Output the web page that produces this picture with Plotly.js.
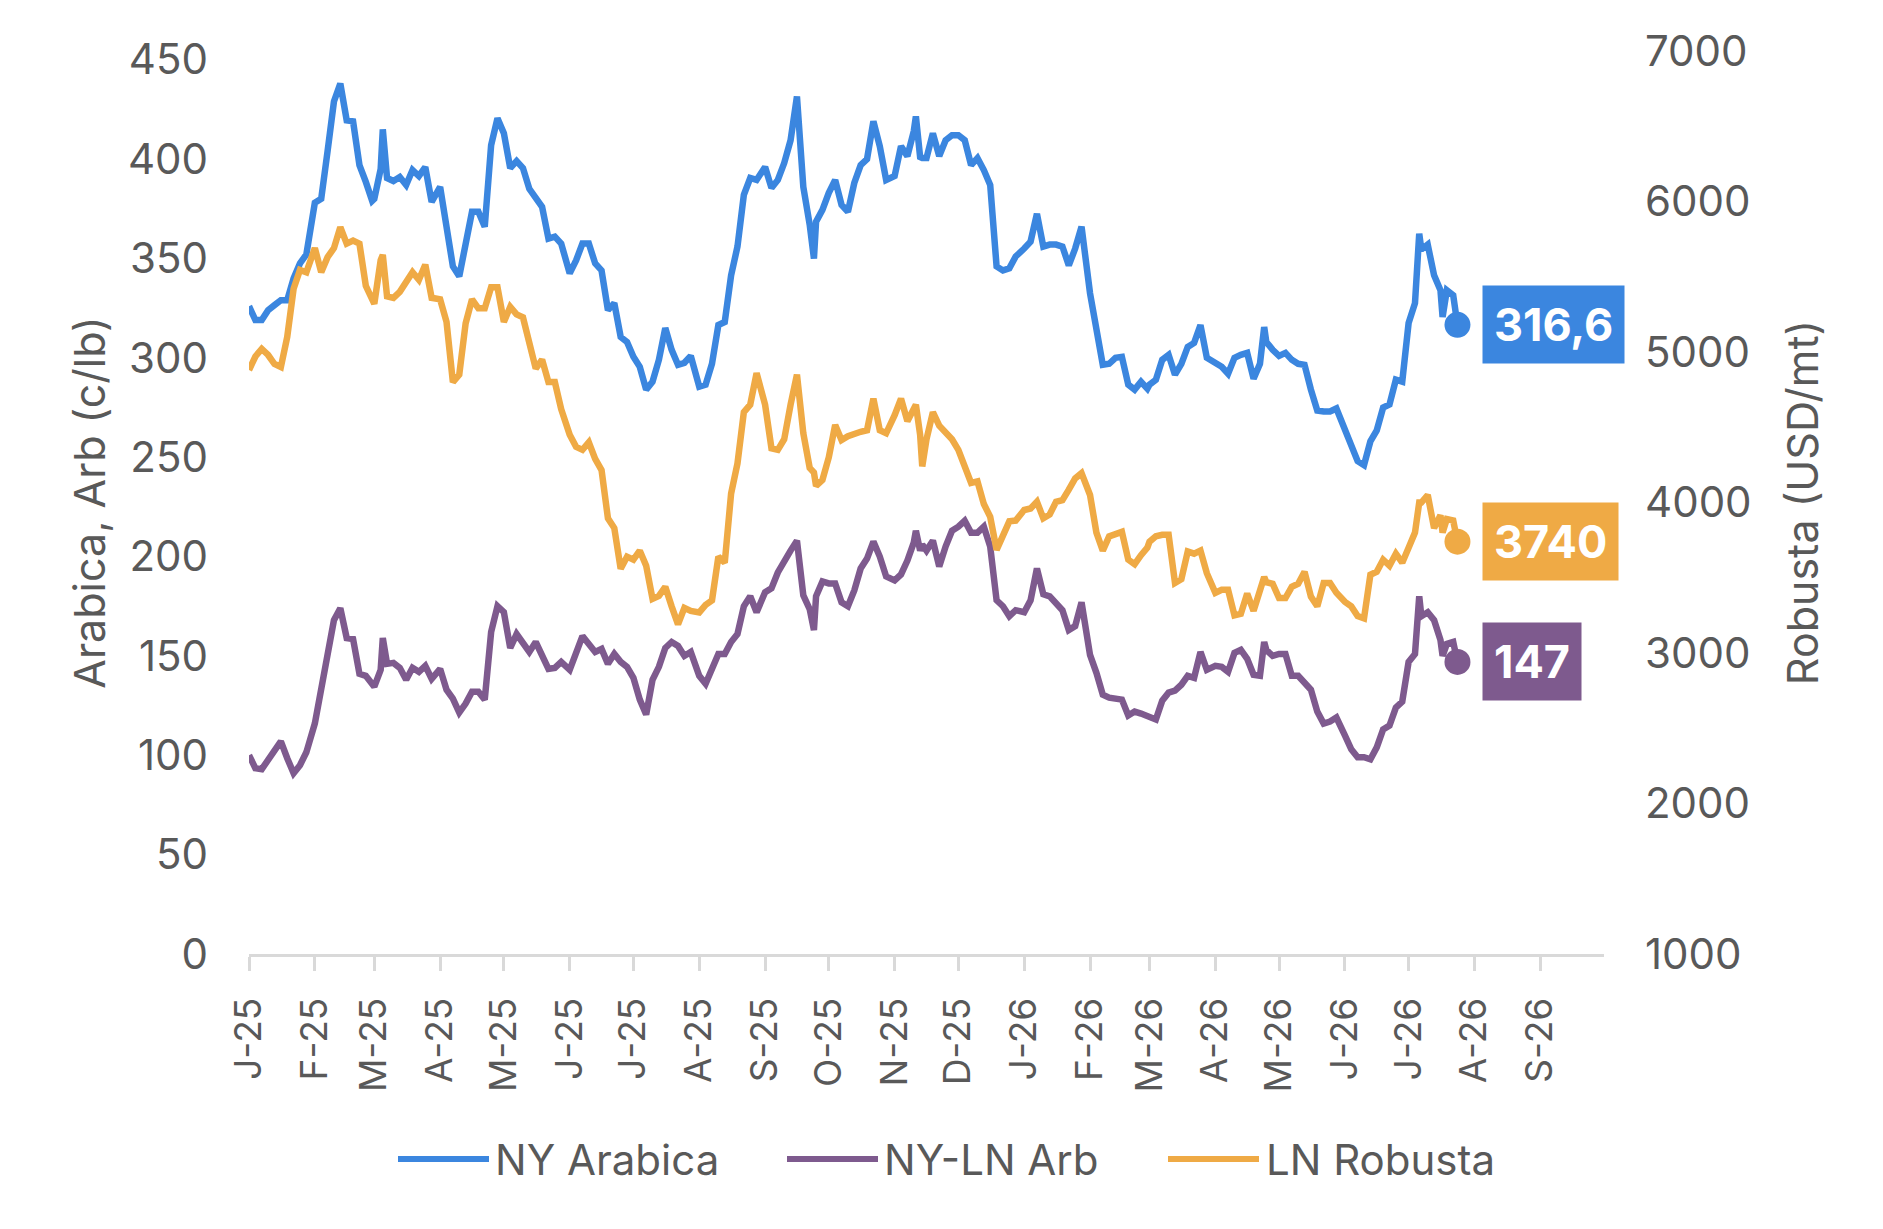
<!DOCTYPE html>
<html><head><meta charset="utf-8">
<script src="https://cdn.plot.ly/plotly-3.0.1.min.js"></script>
<style>html,body{margin:0;padding:0;background:#fff;}#chart{width:1883px;height:1229px;}</style>
</head><body><div id="chart"></div>
<script>
const dates = [
'2025-01-01','2025-01-04','2025-01-07','2025-01-10','2025-01-13','2025-01-16','2025-01-19','2025-01-22','2025-01-25','2025-01-28',
'2025-02-01','2025-02-04','2025-02-07','2025-02-10','2025-02-13','2025-02-16','2025-02-19','2025-02-22','2025-02-25','2025-02-28',
'2025-03-01','2025-03-04','2025-03-05','2025-03-07','2025-03-10','2025-03-13','2025-03-16','2025-03-19','2025-03-22','2025-03-25','2025-03-28',
'2025-04-01','2025-04-04','2025-04-07','2025-04-10','2025-04-13','2025-04-16','2025-04-19','2025-04-22','2025-04-25','2025-04-28',
'2025-05-01','2025-05-04','2025-05-07','2025-05-10','2025-05-13','2025-05-16','2025-05-19','2025-05-22','2025-05-25','2025-05-28',
'2025-06-01','2025-06-04','2025-06-07','2025-06-10','2025-06-13','2025-06-16','2025-06-19','2025-06-22','2025-06-25','2025-06-28',
'2025-07-01','2025-07-04','2025-07-07','2025-07-10','2025-07-13','2025-07-16','2025-07-19','2025-07-22','2025-07-25','2025-07-28',
'2025-08-01','2025-08-04','2025-08-07','2025-08-10','2025-08-13','2025-08-16','2025-08-19','2025-08-22','2025-08-25','2025-08-28',
'2025-09-01','2025-09-04','2025-09-07','2025-09-10','2025-09-13','2025-09-16','2025-09-19','2025-09-22','2025-09-24','2025-09-25','2025-09-28',
'2025-10-01','2025-10-04','2025-10-07','2025-10-10','2025-10-13','2025-10-16','2025-10-19','2025-10-22','2025-10-25','2025-10-28',
'2025-11-01','2025-11-04','2025-11-07','2025-11-10','2025-11-11','2025-11-13','2025-11-14','2025-11-16','2025-11-19','2025-11-22','2025-11-25','2025-11-28',
'2025-12-01','2025-12-04','2025-12-07','2025-12-10','2025-12-13','2025-12-16','2025-12-19','2025-12-22','2025-12-25','2025-12-28',
'2026-01-01','2026-01-04','2026-01-07','2026-01-10','2026-01-13','2026-01-16','2026-01-19','2026-01-22','2026-01-25','2026-01-28',
'2026-02-01','2026-02-04','2026-02-07','2026-02-10','2026-02-13','2026-02-16','2026-02-19','2026-02-22','2026-02-25','2026-02-28',
'2026-03-01','2026-03-04','2026-03-07','2026-03-10','2026-03-13','2026-03-16','2026-03-19','2026-03-22','2026-03-25','2026-03-28',
'2026-04-01','2026-04-04','2026-04-07','2026-04-10','2026-04-13','2026-04-16','2026-04-19','2026-04-22','2026-04-24','2026-04-25','2026-04-28',
'2026-05-01','2026-05-04','2026-05-07','2026-05-10','2026-05-13','2026-05-16','2026-05-19','2026-05-22','2026-05-25','2026-05-28',
'2026-06-01','2026-06-04','2026-06-07','2026-06-10','2026-06-13','2026-06-16','2026-06-19','2026-06-22','2026-06-25','2026-06-28',
'2026-07-01','2026-07-04','2026-07-06','2026-07-07','2026-07-10','2026-07-13','2026-07-16','2026-07-17','2026-07-19','2026-07-22','2026-07-24'
];
const nyArabica = [
326,319,319,324,326.5,329,329,340,347.5,352,
378,380,404,429,438,419.5,419,397,388.5,379,
380,395,415,390.5,389,391,387,394.5,391.5,396,378.5,
386,366,346,341,359,373.5,373.5,366,407,420.5,
413,395.5,399,395.5,385,381,376,360,361,357.5,
342.5,349,357.5,357.5,347.5,344,324,327.5,310.5,308,
300.5,295.5,284,288,299,315,304,296.5,297.5,301,
285.5,286.5,297,316.5,318,341.5,356,382,390.5,389.5,
396,385.5,389.5,398,409.5,431.5,386,367,350,368.5,374.5,
383,389.5,377,373.5,388,397,400,419,406.5,389.5,
391.5,406.5,401.5,414,421.5,401,400.5,400.5,413,401.5,409.5,412,
412,409.5,397,400.5,394.5,387,346,344,345,351,
355,358.5,372.5,356,357,357,356,346.5,355,366,
332.5,316.5,296.5,297,300,300.5,286.5,284,288,284.5,
286.5,289,299,301.5,291.5,297,305.5,307.5,316.5,300,
297,295.5,292,300,301.5,302.5,289.5,297,315.5,308,304,
301,302.5,299,297,296.5,284,273.5,273,273,274.5,
263.5,255.5,248,246,258,263.5,275,276.5,289,288,
317.5,327.5,362.5,354.5,357,341.5,334,320.5,334,331.5,316.6
];
const lnRobusta = [
4880,4970,5020,4980,4920,4900,5100,5420,5545,5530,
5690,5530,5630,5690,5830,5720,5740,5720,5440,5340,
5320,5610,5645,5370,5360,5400,5460,5530,5480,5580,5360,
5350,5200,4800,4850,5190,5350,5290,5290,5430,5430,
5200,5300,5250,5230,5070,4890,4950,4800,4800,4620,
4450,4370,4350,4400,4290,4215,3895,3830,3560,3640,
3620,3680,3580,3360,3380,3440,3310,3190,3300,3280,
3270,3320,3350,3640,3600,4060,4260,4600,4650,4860,
4650,4360,4350,4420,4650,4850,4460,4230,4200,4110,4150,
4300,4515,4415,4440,4460,4470,4480,4690,4480,4460,
4580,4690,4540,4640,4650,4450,4240,4420,4600,4510,4460,4420,
4350,4230,4130,4140,3990,3905,3685,3780,3875,3880,
3950,3960,4005,3895,3920,4005,4015,4085,4160,4195,
4050,3800,3680,3775,3790,3805,3620,3590,3650,3700,
3740,3775,3785,3785,3465,3490,3675,3660,3680,3530,
3400,3420,3420,3250,3260,3395,3280,3440,3505,3470,3460,
3365,3365,3440,3460,3540,3375,3310,3465,3465,3400,
3340,3310,3245,3230,3520,3540,3620,3580,3660,3600,
3700,3800,4000,4000,4050,3830,3915,3800,3890,3880,3740
];
const nyLnArb = [
100,93.5,93,98,103,107,98.5,91,95,101.5,
116,132,150,168,174,159,158.5,141,140,135,
134.5,143,159,146,146.5,144,138,144,142,145,138.5,
143.5,133,128.5,121.5,126,132,132,128,162,175,
172,154,161,156,152,157,150,143.5,144,147,
143,151,160,156,152,153.5,146,151,147,144.5,
139,128,120.5,138,144.5,154,157,155,150,152,
140,136,143,151,151,157,161,175,180,172,
182,184,192,198,203,208,180.5,173.5,163,180,187.5,
186.5,186.5,177,175,183,194,199,207.5,200,190,
188,191,198,207,213,203,206,203,208,195,205,213,
215,218,212,212,215,205,178,175,170,173,
172,178,194,181,180,176,173,163,165,177,
150.5,141.5,130.5,129,128.5,128,120,122,121,120,
119.5,118,127.5,131.5,132.5,135.5,140,139,152,143,
145,144.5,142,151.5,153,148.5,140.5,140,157,153,150,
151,151,140,140,137,133,122,116,117,119,
110,103,99,99,98,104,113,115,124,127,
147,151,180,170,172,168,158,150,156,157,147
];
const xTickVals = ['2025-01-01','2025-02-01','2025-03-01','2025-04-01','2025-05-01','2025-06-01','2025-07-01','2025-08-01','2025-09-01','2025-10-01','2025-11-01','2025-12-01','2026-01-01','2026-02-01','2026-03-01','2026-04-01','2026-05-01','2026-06-01','2026-07-01','2026-08-01','2026-09-01'];
const xTickText = ['J-25','F-25','M-25','A-25','M-25','J-25','J-25','A-25','S-25','O-25','N-25','D-25','J-26','F-26','M-26','A-26','M-26','J-26','J-26','A-26','S-26'];
const leftTicks = [0,50,100,150,200,250,300,350,400,450];
const rightTicks = [1000,2000,3000,4000,5000,6000,7000];
const names = ['NY Arabica','NY-LN Arb','LN Robusta'];

const C_AR = '#3B86DF', C_ARB = '#7E5A8E', C_RO = '#EFAA45';
const GREY = '#595959', AXIS = '#D9D9D9';
const FONT = 'Inter, "Open Sans", sans-serif';
const LW = 6.5;
const last = a => a[a.length - 1];
const fmt = v => String(v).replace('.', ',');
const lastDate = last(dates);

const traces = [
  {x: dates, y: nyArabica, name: names[0], type: 'scatter', mode: 'lines', line: {color: C_AR, width: LW}, yaxis: 'y'},
  {x: dates, y: nyLnArb, name: names[1], type: 'scatter', mode: 'lines', line: {color: C_ARB, width: LW}, yaxis: 'y'},
  {x: dates, y: lnRobusta, name: names[2], type: 'scatter', mode: 'lines', line: {color: C_RO, width: LW}, yaxis: 'y2'},
  {x: [lastDate], y: [last(nyArabica)], type: 'scatter', mode: 'markers', marker: {color: C_AR, size: 26}, yaxis: 'y', showlegend: false},
  {x: [lastDate], y: [last(nyLnArb)], type: 'scatter', mode: 'markers', marker: {color: C_ARB, size: 26}, yaxis: 'y', showlegend: false},
  {x: [lastDate], y: [last(lnRobusta)], type: 'scatter', mode: 'markers', marker: {color: C_RO, size: 26}, yaxis: 'y2', showlegend: false}
];

function valueLabel(v, yref, color) {
  return {x: lastDate, y: v, xref: 'x', yref: yref, xanchor: 'left', yanchor: 'middle', xshift: 25,
    text: '<b>' + fmt(v) + '</b>', showarrow: false, bgcolor: color, borderpad: 11,
    font: {family: FONT, size: 45, color: '#FFFFFF'}};
}

// custom legend (long line samples like the original)
const W = 1883 - 249 - 279, H = 1229 - 51 - 275;
const px = X => (X - 249) / W;
const py = Y => (954 - Y) / H;
const legendItems = [
  {name: names[0], color: C_AR, x0: 398, x1: 489, tx: 493},
  {name: names[1], color: C_ARB, x0: 787, x1: 878, tx: 882},
  {name: names[2], color: C_RO, x0: 1168, x1: 1259, tx: 1264}
];
const legY = 1159;
const shapes = legendItems.map(it => ({type: 'line', xref: 'paper', yref: 'paper',
  x0: px(it.x0), x1: px(it.x1), y0: py(legY), y1: py(legY), line: {color: it.color, width: 6}}));
const legendAnn = legendItems.map(it => ({xref: 'paper', yref: 'paper', x: px(it.tx), y: py(legY),
  xanchor: 'left', yanchor: 'middle', text: it.name, showarrow: false,
  font: {family: FONT, size: 42, color: GREY}}));

const layout = {
  width: 1883, height: 1229,
  margin: {l: 249, r: 279, t: 51, b: 275, pad: 0, autoexpand: false},
  paper_bgcolor: '#FFFFFF', plot_bgcolor: '#FFFFFF',
  font: {family: FONT, color: GREY, size: 42},
  showlegend: false,
  xaxis: {type: 'date', range: ['2025-01-01', '2026-10-01'], tickmode: 'array', tickvals: xTickVals, ticktext: xTickText,
    tickangle: -90, ticks: 'outside', ticklen: 14, tickwidth: 3, tickcolor: AXIS,
    showline: true, linecolor: AXIS, linewidth: 3, showgrid: false, zeroline: false,
    tickfont: {family: FONT, size: 37, color: GREY}, ticklabelstandoff: 12, automargin: false},
  yaxis: {range: [0, 454.4], tickmode: 'array', tickvals: leftTicks, showgrid: false, zeroline: false, showline: false,
    ticks: '', tickfont: {family: FONT, size: 42, color: GREY}, ticklabelstandoff: 40, automargin: false,
    title: {text: 'Arabica, Arb (c/lb)', font: {family: FONT, size: 43, color: GREY}, standoff: 8}},
  yaxis2: {range: [1000, 7000], overlaying: 'y', side: 'right', tickmode: 'array', tickvals: rightTicks,
    showgrid: false, zeroline: false, showline: false, ticks: '',
    tickfont: {family: FONT, size: 42, color: GREY}, ticklabelstandoff: 40, automargin: false,
    title: {text: 'Robusta (USD/mt)', font: {family: FONT, size: 43, color: GREY}, standoff: 37}},
  shapes: shapes,
  annotations: [
    valueLabel(last(nyArabica), 'y', C_AR),
    valueLabel(last(lnRobusta), 'y2', C_RO),
    valueLabel(last(nyLnArb), 'y', C_ARB)
  ].concat(legendAnn)
};

Plotly.newPlot('chart', traces, layout, {staticPlot: true, displayModeBar: false});
</script>
</body></html>
